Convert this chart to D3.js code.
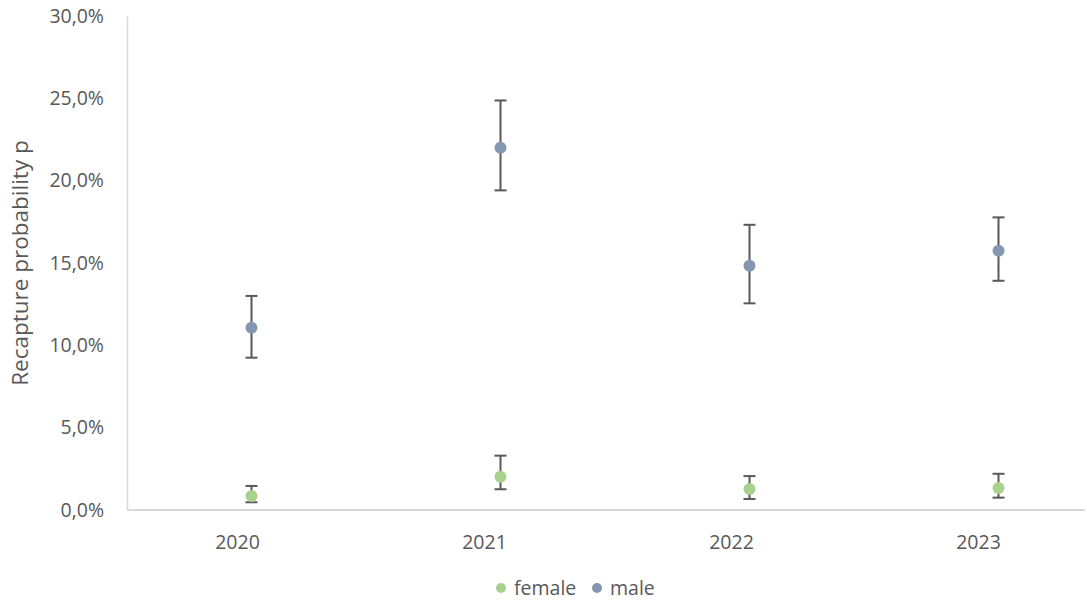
<!DOCTYPE html>
<html>
<head>
<meta charset="utf-8">
<script src="https://cdn.jsdelivr.net/npm/d3@7/dist/d3.min.js"></script>
<style>
  html, body { margin: 0; padding: 0; background: #fff; }
  svg text { font-family: "Open Sans", "Noto Sans", sans-serif; fill: #595959; }
</style>
</head>
<body>
<svg id="chart" width="1087" height="600"></svg>
<script>
// ---- data ----
const years = ["2020", "2021", "2022", "2023"];
const seriesNames = ["female", "male"];
const femaleValues = [0.0085, 0.0202, 0.0128, 0.0134];
const femaleUpper  = [0.0146, 0.0330, 0.0206, 0.0220];
const femaleLower  = [0.0047, 0.0126, 0.0067, 0.0075];
const maleValues   = [0.1107, 0.2200, 0.1483, 0.1574];
const maleUpper    = [0.1300, 0.2487, 0.1732, 0.1777];
const maleLower    = [0.0925, 0.1941, 0.1255, 0.1392];
const yTicks = [0, 0.05, 0.10, 0.15, 0.20, 0.25, 0.30];
const yTitle = "Recapture probability p";
const colors = { female: "#A9D18E", male: "#8497B0" };

// ---- layout ----
const svg = d3.select("#chart");
const plot = { left: 127, right: 1085, top: 16, bottom: 510 };

const y = d3.scaleLinear().domain([0, 0.30]).range([plot.bottom, plot.top]);
// markers
const x = d3.scaleBand().domain(years).range([plot.left, plot.left + 249 * 4]).padding(0);
const xc = d => x(d) + x.bandwidth() / 2;
// category labels
const xl = d3.scaleBand().domain(years).range([114, 1102]);

const fmt = v => d3.format(".1f")(v * 100).replace(".", ",") + "%";

// y axis
const yAxis = d3.axisLeft(y).tickValues(yTicks).tickFormat(fmt).tickSize(0).tickPadding(23);
const gy = svg.append("g").attr("transform", `translate(${plot.left},0)`).call(yAxis);
gy.select(".domain").attr("stroke", "#D9D9D9").attr("stroke-width", 1.5);
gy.selectAll("text").attr("font-size", 19.5).attr("fill", "#595959").style("fill", "#595959");

// x axis
const xAxis = d3.axisBottom(xl).tickSize(0).tickPadding(25);
const gx = svg.append("g").attr("transform", `translate(0,${plot.bottom})`).call(xAxis);
gx.select(".domain").remove();
gx.append("line").attr("x1", plot.left).attr("x2", plot.right).attr("y1", 0).attr("y2", 0)
  .attr("stroke", "#D9D9D9").attr("stroke-width", 2);
gx.selectAll("text").attr("font-size", 19.5).attr("fill", "#595959").style("fill", "#595959");

// y title
svg.append("text")
  .attr("transform", `translate(28,263) rotate(-90)`)
  .attr("text-anchor", "middle")
  .attr("font-size", 22.5)
  .text(yTitle);

// series
const series = [
  { name: "female", v: femaleValues, hi: femaleUpper, lo: femaleLower },
  { name: "male", v: maleValues, hi: maleUpper, lo: maleLower }
];
const capW = 6;
series.forEach(s => {
  const g = svg.append("g");
  years.forEach((yr, i) => {
    const cx = xc(yr);
    g.append("line").attr("x1", cx).attr("x2", cx).attr("y1", y(s.hi[i])).attr("y2", y(s.lo[i]))
      .attr("stroke", "#595959").attr("stroke-width", 2);
    [s.hi[i], s.lo[i]].forEach(v => {
      g.append("line").attr("x1", cx - capW).attr("x2", cx + capW).attr("y1", y(v)).attr("y2", y(v))
        .attr("stroke", "#595959").attr("stroke-width", 2);
    });
  });
  g.selectAll("circle").data(s.v).join("circle")
    .attr("cx", (d, i) => xc(years[i]))
    .attr("cy", d => y(d))
    .attr("r", 6)
    .attr("fill", colors[s.name]);
});

// legend
const legend = svg.append("g").attr("transform", "translate(0,588)");
const legendX = [501, 597];
seriesNames.forEach((n, i) => {
  legend.append("circle").attr("cx", legendX[i]).attr("cy", 0).attr("r", 5).attr("fill", colors[n]);
  legend.append("text").attr("x", legendX[i] + 13).attr("y", 0).attr("dy", "0.35em")
    .attr("font-size", 19.5).text(n);
});
</script>
</body>
</html>
